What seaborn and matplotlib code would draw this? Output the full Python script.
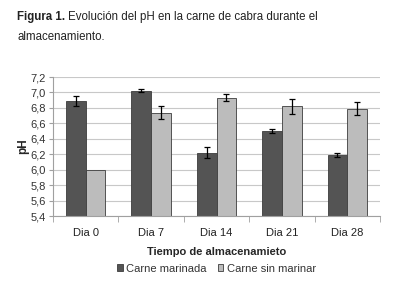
import numpy as np
import pandas as pd
import matplotlib
matplotlib.use("Agg")
import matplotlib.pyplot as plt
import seaborn as sns

days = ["Dia 0", "Dia 7", "Dia 14", "Dia 21", "Dia 28"]
series = ["Carne marinada", "Carne sin marinar"]
ph_marinada = [6.89, 7.02, 6.22, 6.50, 6.19]
ph_sin_marinar = [6.00, 6.74, 6.93, 6.82, 6.79]
err_marinada = [0.07, 0.02, 0.075, 0.025, 0.02]
err_sin_marinar = [0.0, 0.08, 0.045, 0.10, 0.085]
colors = ["#545454", "#bcbcbc"]

df = pd.DataFrame({
    "Dia": days * 2,
    "Serie": [series[0]] * len(days) + [series[1]] * len(days),
    "pH": ph_marinada + ph_sin_marinar,
    "err": err_marinada + err_sin_marinar,
})

sns.set_style("white")
plt.rcParams["font.family"] = ["Liberation Sans", "DejaVu Sans"]

fig = plt.figure(figsize=(4.08, 2.90), dpi=100)
ax = fig.add_axes([53 / 408, 1 - 216 / 290, 327 / 408, 139 / 290])

sns.barplot(
    data=df, x="Dia", y="pH", hue="Serie", order=days, hue_order=series,
    palette=colors, width=0.6, errorbar=None, ax=ax, zorder=2,
    edgecolor="#3c3c3c", linewidth=0.6,
)

# error bars placed on the bars seaborn drew (skip zero-width ones)
for container, s in zip(ax.containers, series):
    errs = df[df["Serie"] == s]["err"].values
    for p, e in zip(container.patches, errs):
        if e <= 0:
            continue
        ax.errorbar(p.get_x() + p.get_width() / 2, p.get_y() + p.get_height(),
                    yerr=e, fmt="none", ecolor="black", elinewidth=0.9,
                    capsize=2.5, capthick=0.9, zorder=3)

ax.set_ylim(5.4, 7.2)
yt = np.arange(5.4, 7.21, 0.2)
ax.set_yticks(yt)
ax.set_yticklabels([f"{v:.1f}".replace(".", ",") for v in yt])
ax.set_xlim(-0.5, len(days) - 0.5)
ax.yaxis.grid(True, color="#c8c8c8", linewidth=0.8, zorder=0)
ax.set_axisbelow(True)

for side in ["top", "right"]:
    ax.spines[side].set_visible(False)
for side in ["left", "bottom"]:
    ax.spines[side].set_color("#a0a0a0")
    ax.spines[side].set_linewidth(0.8)

ax.tick_params(axis="y", length=3, color="#a0a0a0", labelsize=8, pad=2,
               labelcolor="#333333", direction="out", left=True)
ax.tick_params(axis="x", length=0, labelsize=8, pad=9, labelcolor="#222222")
ax.set_xticks(np.arange(-0.5, len(days)), minor=True)
ax.tick_params(axis="x", which="minor", length=4, color="#a0a0a0", bottom=True)

ax.set_xlabel("Tiempo de almacenamieto", fontsize=8, fontweight="bold", labelpad=6)
ax.set_ylabel("pH", fontsize=8.5, fontweight="bold", labelpad=1)

ax.legend(loc="upper center", bbox_to_anchor=(0.5, -0.31), ncol=2, frameon=False,
          fontsize=8, handlelength=0.5, handleheight=0.5, handletextpad=0.3,
          columnspacing=1.0, borderaxespad=0, labelcolor="#333333")

# caption: bold label, then the rest placed right after it
t1 = fig.text(17 / 408, 1 - 17 / 290, "Figura 1.", fontsize=8.3, fontweight="bold",
              va="center", ha="left", color="#222222")
fig.canvas.draw()
bb = t1.get_window_extent(fig.canvas.get_renderer())
fig.text((bb.x1 + 3) / 408, 1 - 17 / 290,
         "Evolución del pH en la carne de cabra durante el",
         fontsize=8.3, va="center", ha="left", color="#222222")
fig.text(17 / 408, 1 - 37 / 290, "almacenamiento.", fontsize=8.3, va="center",
         ha="left", color="#222222")

fig.savefig("out.png", dpi=100)
